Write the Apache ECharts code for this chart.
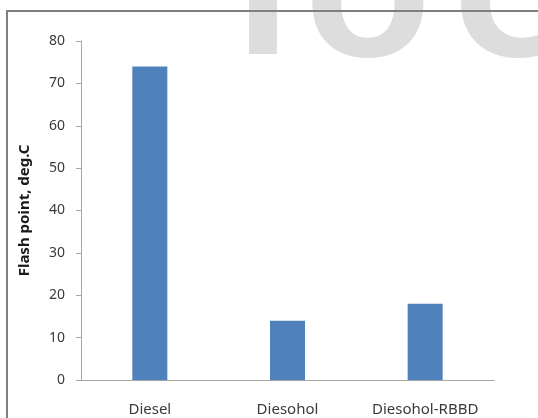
<!DOCTYPE html>
<html>
<head>
<meta charset="utf-8">
<script src="https://cdn.jsdelivr.net/npm/echarts@6/dist/echarts.min.js"></script>
<style>
  html, body { margin: 0; padding: 0; background: #ffffff; }
  #chart { width: 538px; height: 418px; }
</style>
</head>
<body>
<div id="chart"></div>
<script>
// Fuel samples and their measured flash points (deg. C)
const categories = ['Diesel', 'Diesohol', 'Diesohol-RBBD'];
const flashPoint = [74, 14, 18];
const yTicks = { min: 0, max: 80, interval: 10 };

const chart = echarts.init(document.getElementById('chart'), null, { renderer: 'canvas' });

const markFont = 'DejaVu Sans';
const textFont = 'Noto Sans';

function markLetter(ch, x, y) {
  return {
    type: 'text', z: 0, x: x, y: y,
    style: { text: ch, font: 'bold 148px "' + markFont + '"', fill: '#dddddd',
             textAlign: 'center', textVerticalAlign: 'bottom' }
  };
}

chart.setOption({
  backgroundColor: '#ffffff',
  animation: false,
  graphic: [
    // large grey lettering behind the plot frame
    markLetter('I', 263, 90),
    markLetter('O', 368, 92),
    markLetter('C', 508, 92),
    // outer frame of the chart area
    { type: 'rect', z: 10, shape: { x: 7, y: 11, width: 700, height: 600 },
      style: { fill: 'none', stroke: '#7f7f7f', lineWidth: 2 } }
  ],
  grid: { left: 81, top: 41, right: 44, bottom: 38 },
  xAxis: {
    type: 'category',
    data: categories,
    axisLine: { show: true, lineStyle: { color: '#a6a6a6', width: 1 } },
    axisTick: { show: false },
    axisLabel: { color: '#3a3a3a', fontSize: 15, fontFamily: textFont, margin: 22, interval: 0 }
  },
  yAxis: {
    type: 'value',
    min: yTicks.min,
    max: yTicks.max,
    interval: yTicks.interval,
    name: 'Flash point, deg.C',
    nameLocation: 'middle',
    nameRotate: 90,
    nameGap: 49,
    nameTextStyle: { color: '#1a1a1a', fontSize: 15, fontWeight: 'bold', fontFamily: textFont },
    splitLine: { show: false },
    axisLine: { show: true, lineStyle: { color: '#a6a6a6', width: 1 } },
    axisTick: { show: true, inside: false, length: 5, lineStyle: { color: '#a6a6a6' } },
    axisLabel: { color: '#3a3a3a', fontSize: 14, fontFamily: textFont, margin: 16 }
  },
  series: [{
    type: 'bar',
    data: flashPoint,
    barWidth: 35,
    itemStyle: { color: '#4f81bd' }
  }]
});
</script>
</body>
</html>
